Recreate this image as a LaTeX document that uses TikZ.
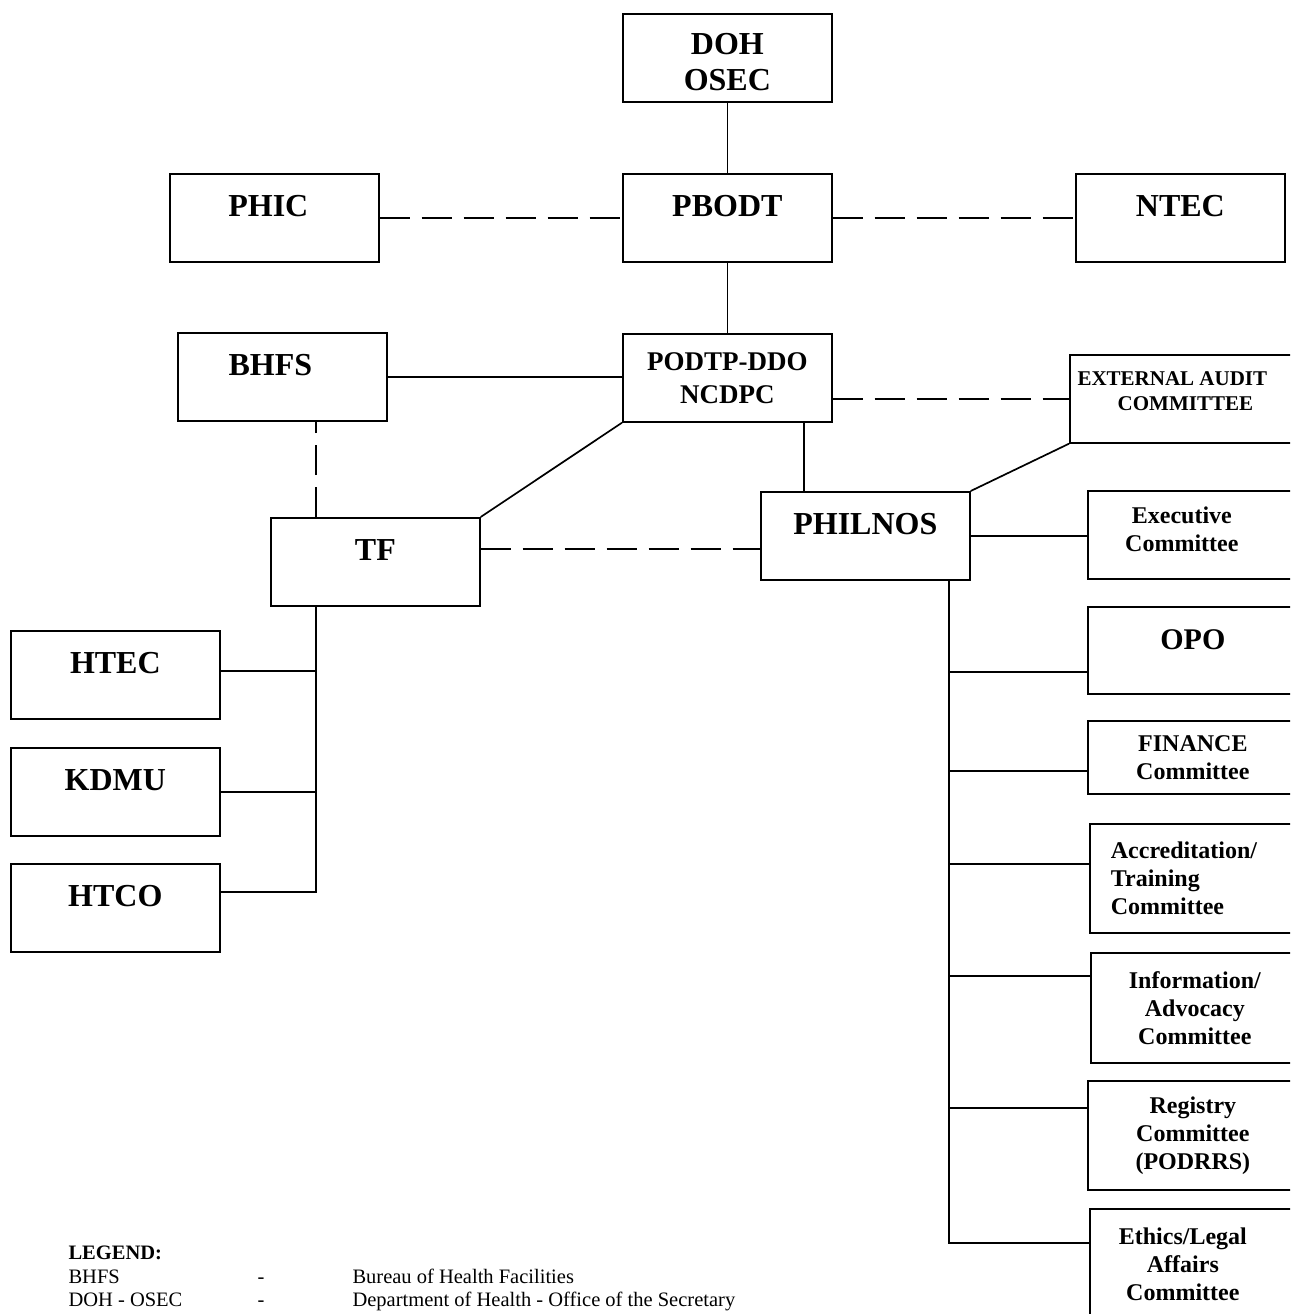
\documentclass[tikz,border=0pt]{standalone}
\usepackage{fontspec}
\setmainfont{Liberation Serif}
\usetikzlibrary{calc, positioning}

\tikzset{
    unit/.style={draw, line width=1.7pt, minimum width=209pt, minimum height=88pt,
        anchor=north west, align=center, inner ysep=0pt, font=\fontsize{32}{36}\selectfont\bfseries},
    toptext/.style={text height=22pt, text depth=24pt},
    twoline/.style={font=\fontsize{27}{33}\selectfont\bfseries},
    cmte/.style={unit, minimum width=240pt, font=\fontsize{24}{28}\selectfont\bfseries},
    link/.style={line width=1.7pt},
    dashlink/.style={line width=1.7pt, dash pattern=on 30pt off 12pt},
}
\newcommand{\nudge}[1]{\hspace*{#1}}

\begin{document}
\begin{tikzpicture}[x=1pt, y=-1pt]
    \useasboundingbox (0,0) rectangle (1290,1314);
    \clip (0,0) rectangle (1290,1314);

    % top of the chart
    \node[unit, text height=66pt] (doh) at (622,13) {DOH\\OSEC};
    \node[unit, toptext] (pbodt) at (622,173) {PBODT};
    \node[unit, toptext] (phic) at (169,173) {\nudge{-12pt}PHIC};
    \node[unit, toptext] (ntec) at (1075,173) {NTEC};
    \node[unit, toptext] (bhfs) at (177,332) {\nudge{-24pt}BHFS};
    \node[unit, twoline] (podtp) at (622,333) {PODTP-DDO\\NCDPC};
    \node[cmte, font=\fontsize{21}{25}\selectfont\bfseries, text depth=16pt] (ext) at (1069,354) {\nudge{-35pt}EXTERNAL AUDIT\\\nudge{-9pt}COMMITTEE};
    \node[unit, toptext] (tf) at (270,517) {TF};
    \node[unit, toptext] (philnos) at (760,491) {PHILNOS};

    % task force units
    \node[unit, toptext] (htec) at (10,630) {HTEC};
    \node[unit, toptext] (kdmu) at (10,747) {KDMU};
    \node[unit, toptext] (htco) at (10,863) {HTCO};

    % PHILNOS committees
    \node[cmte, text depth=12pt] (exec) at (1087,490) {\nudge{-52pt}Executive\\\nudge{-52pt}Committee};
    \node[cmte, font=\fontsize{30}{34}\selectfont\bfseries, toptext, minimum height=87pt] (opo) at (1087,606) {\nudge{-30pt}OPO};
    \node[cmte, minimum height=73pt] (fin) at (1087,720) {\nudge{-30pt}FINANCE\\\nudge{-30pt}Committee};
    \node[cmte, minimum height=109pt, align=left, text width=198pt, inner xsep=0pt] (acc) at (1089,823) {Accreditation/\\Training\\Committee};
    \node[cmte, minimum height=110pt] (info) at (1090,952) {\nudge{-32pt}Information/\\\nudge{-32pt}Advocacy\\\nudge{-32pt}Committee};
    \node[cmte, minimum height=109pt] (reg) at (1087,1080) {\nudge{-30pt}Registry\\\nudge{-30pt}Committee\\\nudge{-30pt}(PODRRS)};
    \node[cmte, minimum height=110pt] (eth) at (1089,1208) {\nudge{-54pt}Ethics/Legal\\\nudge{-54pt}Affairs\\\nudge{-54pt}Committee};

    % connectors
    \draw[link] (doh) -- (pbodt);
    \draw[link] (pbodt) -- (podtp);
    \draw[dashlink] (phic.east) -- (pbodt.west);
    \draw[dashlink] (pbodt.east) -- (ntec.west);
    \draw[link] (bhfs.east) -- (bhfs.east -| podtp.west);
    \draw[dashlink] (podtp.east |- ext.west) -- (ext.west);
    \draw[link] (podtp.south west) -- (tf.north east);
    \draw[link] ([xshift=44pt]philnos.north west) -- ([xshift=44pt]philnos.north west |- podtp.south);
    \draw[dashlink] ([xshift=46pt]tf.north west) -- ([xshift=46pt]tf.north west |- bhfs.south);
    \draw[dashlink] ([yshift=13pt]tf.east) -- ([yshift=13pt]tf.east -| philnos.west);
    \draw[link] (philnos.north east) -- (ext.south west);
    \draw[link] (philnos.east) -- (philnos.east -| exec.west);

    % bus from TF
    \coordinate (tfbus) at ([xshift=46pt]tf.south west);
    \draw[link] (tfbus) |- ([yshift=16pt]htco.east);
    \draw[link] ([yshift=4pt]htec.east) -- ([yshift=4pt]htec.east -| tfbus);
    \draw[link] (kdmu.east) -- (kdmu.east -| tfbus);

    % bus from PHILNOS
    \coordinate (bus) at ([xshift=-22pt]philnos.south east);
    \draw[link] (bus) |- ([yshift=21pt]eth.west);
    \foreach \n/\s in {opo/-21.5, fin/-13.5, acc/14.5, info/32, reg/27.5}
        \draw[link] ([yshift=\s pt]\n.west) -- ([yshift=\s pt]\n.west -| bus);

    % legend
    \node[anchor=base west, font=\fontsize{20.5}{24}\selectfont\bfseries] (leg) at (65,1259) {LEGEND:};
    \node[anchor=base west, font=\fontsize{20.5}{24}\selectfont] (ab1) at (65,1283) {BHFS};
    \node[anchor=base west, font=\fontsize{20.5}{24}\selectfont] (ds1) at (254,1283) {-};
    \node[anchor=base west, font=\fontsize{20.5}{24}\selectfont] (tx1) at (349,1283) {Bureau of Health Facilities};
    \node[anchor=base west, font=\fontsize{20.5}{24}\selectfont] (ab2) at (65,1306) {DOH - OSEC};
    \node[anchor=base west, font=\fontsize{20.5}{24}\selectfont] (ds2) at (254,1306) {-};
    \node[anchor=base west, font=\fontsize{20.5}{24}\selectfont] (tx2) at (349,1306) {Department of Health - Office of the Secretary};
\end{tikzpicture}
\end{document}
